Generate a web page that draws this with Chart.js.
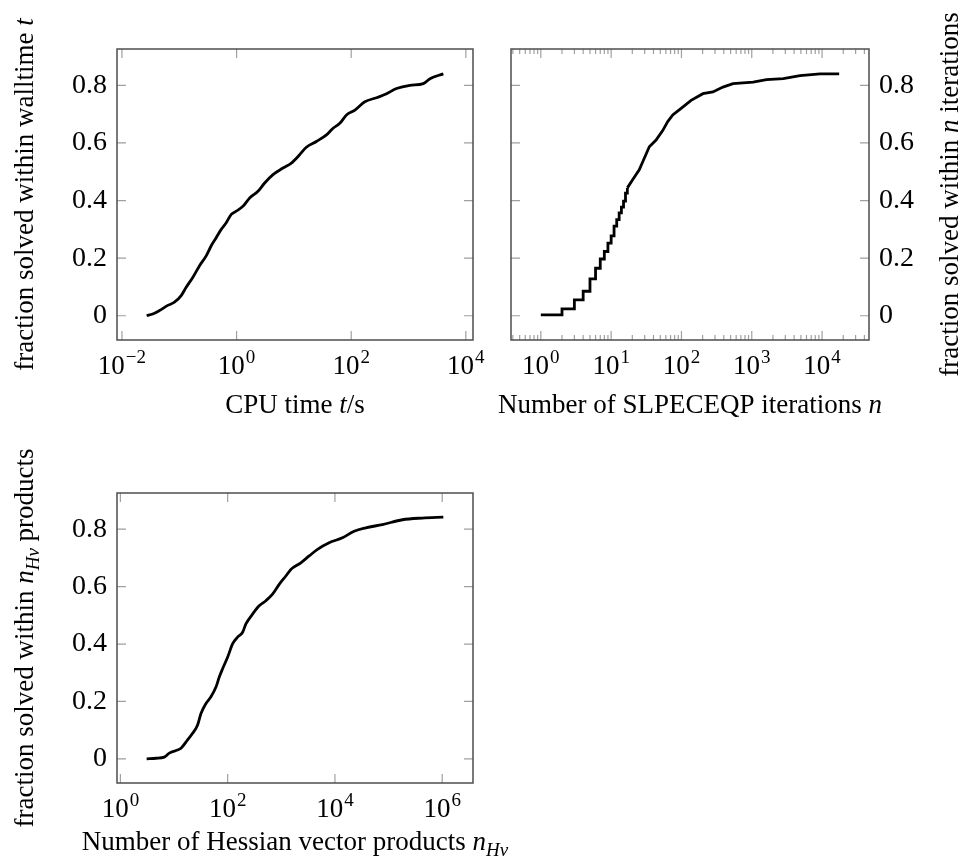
<!DOCTYPE html>
<html>
<head>
<meta charset="utf-8">
<script src="https://cdn.jsdelivr.net/npm/chart.js@4.4.1/dist/chart.umd.min.js"></script>
<style>
  body { margin: 0; background: #fff; width: 960px; height: 861px; position: relative; overflow: hidden; }
  canvas { position: absolute; }
</style>
</head>
<body>
<canvas id="cpuChart" width="500" height="430" style="left:0;top:0"></canvas>
<canvas id="iterChart" width="480" height="430" style="left:480px;top:0"></canvas>
<canvas id="hessChart" width="560" height="421" style="left:0;top:440px"></canvas>
<script>
// CPU time profile
const cpuTime = [0.027, 0.0344, 0.0451, 0.0631, 0.0824, 0.108, 0.132, 0.172, 0.226, 0.295, 0.361, 0.441, 0.540, 0.659, 0.807, 0.987, 1.29, 1.69, 2.36, 3.09, 4.32, 6.46, 9.03, 12.6, 16.5, 24.7, 37.0, 48.3, 63.2, 82.7, 116, 173, 277, 414, 618, 1057, 1811, 2368, 4048];
const cpuSolved = [0, 0.006, 0.018, 0.036, 0.047, 0.070, 0.099, 0.133, 0.174, 0.208, 0.243, 0.271, 0.300, 0.323, 0.352, 0.363, 0.380, 0.409, 0.432, 0.461, 0.490, 0.513, 0.530, 0.559, 0.585, 0.605, 0.628, 0.651, 0.668, 0.697, 0.714, 0.743, 0.757, 0.771, 0.789, 0.800, 0.806, 0.823, 0.840];

// SLPECEQP iterations profile: integer steps at small n, then dense part
const iterStepN = [1, 2, 3, 4, 5, 6, 7, 8, 9, 10, 11, 12, 13, 14, 15, 16, 17];
const iterStepSolved = [0.003, 0.024, 0.055, 0.085, 0.128, 0.165, 0.197, 0.223, 0.252, 0.277, 0.311, 0.334, 0.357, 0.377, 0.398, 0.426, 0.444];
const iterN = [17, 20.2, 25.1, 29.6, 34.9, 43.5, 54.1, 63.8, 75.2, 98.9, 137, 202, 280, 389, 541, 1045, 1622, 2806, 4853, 9354, 17500];
const iterSolved = [0.444, 0.472, 0.507, 0.547, 0.587, 0.610, 0.643, 0.674, 0.697, 0.720, 0.748, 0.771, 0.777, 0.794, 0.806, 0.811, 0.820, 0.823, 0.834, 0.840, 0.840];

// Hessian vector products profile
const hessProducts = [3.09, 4.61, 6.59, 8.17, 10.9, 13.5, 17.9, 22.2, 27.5, 31.8, 39.4, 48.8, 60.5, 69.8, 80.5, 99.7, 124, 153, 190, 219, 291, 387, 516, 687, 914, 1217, 1507, 2313, 3311, 4730, 7798, 13800, 22800, 37600, 76700, 181000, 427000, 1050000];
const hessSolved = [0, 0.002, 0.006, 0.020, 0.029, 0.037, 0.066, 0.089, 0.118, 0.158, 0.193, 0.216, 0.250, 0.285, 0.314, 0.354, 0.401, 0.424, 0.441, 0.470, 0.504, 0.533, 0.551, 0.574, 0.608, 0.637, 0.660, 0.683, 0.707, 0.730, 0.753, 0.770, 0.793, 0.805, 0.816, 0.833, 0.839, 0.842];

// tick values
const fracTicks = [0, 0.2, 0.4, 0.6, 0.8];
const cpuTicks = [0.01, 1, 100, 10000];
const iterTicks = [1, 10, 100, 1000, 10000];
const hessTicks = [1, 100, 10000, 1000000];

const FONT = '"Liberation Serif", "DejaVu Serif", serif';
const TICK = 27, EXP = 19, TITLE = 27, SUB = 19;

// pgfplots-like 10% enlargement of the data range
function logRange(xs) {
  const lo = Math.log10(Math.min(...xs)), hi = Math.log10(Math.max(...xs));
  const pad = 0.1 * (hi - lo);
  return [Math.pow(10, lo - pad), Math.pow(10, hi + pad)];
}
const fracMax = Math.max(...cpuSolved, ...iterSolved, ...hessSolved);
const yMin = -0.1 * fracMax, yMax = 1.1 * fracMax;

function drawRich(ctx, segs, cx, cy, rot) {
  ctx.save();
  ctx.translate(cx, cy);
  ctx.rotate(rot);
  ctx.fillStyle = '#000';
  ctx.textBaseline = 'alphabetic';
  ctx.textAlign = 'left';
  const fontOf = s => (s.it ? 'italic ' : '') + (s.sub ? SUB : TITLE) + 'px ' + FONT;
  let w = 0;
  segs.forEach(s => { ctx.font = fontOf(s); s.w = ctx.measureText(s.t).width; w += s.w; });
  let px = -w / 2;
  segs.forEach(s => { ctx.font = fontOf(s); ctx.fillText(s.t, px, s.sub ? 6 : 0); px += s.w; });
  ctx.restore();
}

// 10^k labels with a real raised exponent
function drawPowLabel(ctx, v, cx, base) {
  const exp = String(Math.round(Math.log10(v))).replace('-', '\u2212');
  ctx.font = TICK + 'px ' + FONT;
  const w1 = ctx.measureText('10').width;
  ctx.font = EXP + 'px ' + FONT;
  const w2 = ctx.measureText(exp).width;
  const left = cx - (w1 + 1 + w2) / 2;
  ctx.font = TICK + 'px ' + FONT;
  ctx.fillText('10', left, base);
  ctx.font = EXP + 'px ' + FONT;
  ctx.fillText(exp, left + w1 + 1, base - 11);
}

// box, inside ticks, x tick labels and axis titles
function frame(o) {
  return {
    id: 'frame',
    afterDatasetsDraw(chart) {
      const { ctx, chartArea: a } = chart;
      const x = chart.scales.x, y = chart.scales.y;
      ctx.save();
      ctx.strokeStyle = '#a0a0a0';
      ctx.lineWidth = 1.2;
      ctx.beginPath();
      const xMark = (v, len) => {
        const p = x.getPixelForValue(v);
        ctx.moveTo(p, a.bottom); ctx.lineTo(p, a.bottom - len);
        ctx.moveTo(p, a.top); ctx.lineTo(p, a.top + len);
      };
      o.xTicks.forEach(v => xMark(v, 9));
      if (o.minor) {
        for (let k = -2; k <= 6; k++) {
          for (let m = 2; m <= 9; m++) {
            const v = m * Math.pow(10, k);
            if (v > x.min && v < x.max) xMark(v, 5);
          }
        }
      }
      fracTicks.forEach(v => {
        const p = y.getPixelForValue(v);
        ctx.moveTo(a.left, p); ctx.lineTo(a.left + 9, p);
        ctx.moveTo(a.right, p); ctx.lineTo(a.right - 9, p);
      });
      ctx.stroke();
      ctx.strokeStyle = '#4d4d4d';
      ctx.lineWidth = 1.5;
      ctx.strokeRect(a.left, a.top, a.right - a.left, a.bottom - a.top);

      ctx.fillStyle = '#000';
      ctx.textBaseline = 'alphabetic';
      ctx.textAlign = 'left';
      x.ticks.forEach(t => drawPowLabel(ctx, t.value, x.getPixelForValue(t.value), a.bottom + 34));

      drawRich(ctx, o.xTitle, (a.left + a.right) / 2, o.xTitleY, 0);
      drawRich(ctx, o.yTitle, o.yTitleX, (a.top + a.bottom) / 2, -Math.PI / 2);
      ctx.restore();
    }
  };
}

const lineStyle = { borderColor: '#000', borderWidth: 2.8, pointRadius: 0 };

function makeChart(id, datasets, xs, o) {
  const [xmin, xmax] = logRange(xs);
  return new Chart(document.getElementById(id), {
    type: 'line',
    data: { datasets },
    options: {
      responsive: false,
      animation: false,
      events: [],
      layout: { padding: o.padding, autoPadding: false },
      plugins: { legend: { display: false }, tooltip: { enabled: false } },
      scales: {
        x: {
          type: 'logarithmic', position: 'bottom', min: xmin, max: xmax,
          grid: { display: false, drawTicks: false }, border: { display: false },
          afterBuildTicks: s => { s.ticks = o.xTicks.map(v => ({ value: v })); },
          afterFit: s => { s.height = o.xAxisH; },
          ticks: { display: false }
        },
        y: {
          type: 'linear', position: o.yPos, min: yMin, max: yMax,
          grid: { display: false, drawTicks: false }, border: { display: false },
          afterBuildTicks: s => { s.ticks = fracTicks.map(v => ({ value: v })); },
          afterFit: s => { s.width = o.yAxisW; },
          ticks: { callback: v => v === 0 ? '0' : v.toFixed(1), font: { family: FONT, size: 28 }, color: '#000', padding: 10 }
        }
      }
    },
    plugins: [frame(o)]
  });
}

const pts = (xs, ys) => xs.map((v, i) => ({ x: v, y: ys[i] }));

makeChart('cpuChart', [
  { ...lineStyle, data: pts(cpuTime, cpuSolved), cubicInterpolationMode: 'monotone' }
], cpuTime, {
  padding: { left: 0, top: 49, right: 27, bottom: 0 },
  yAxisW: 117, xAxisH: 90, yPos: 'left',
  xTicks: cpuTicks,
  xTitle: [{ t: 'CPU time ' }, { t: 't', it: true }, { t: '/s' }], xTitleY: 413,
  yTitle: [{ t: 'fraction solved within walltime ' }, { t: 't', it: true }], yTitleX: 33
});

makeChart('iterChart', [
  { ...lineStyle, data: pts(iterStepN, iterStepSolved), stepped: 'before' },
  { ...lineStyle, data: pts(iterN, iterSolved), tension: 0 }
], iterStepN.concat(iterN), {
  padding: { left: 31, top: 49, right: 0, bottom: 0 },
  yAxisW: 91, xAxisH: 90, yPos: 'right', minor: true,
  xTicks: iterTicks,
  xTitle: [{ t: 'Number of SLPECEQP iterations ' }, { t: 'n', it: true }], xTitleY: 413,
  yTitle: [{ t: 'fraction solved within ' }, { t: 'n', it: true }, { t: ' iterations' }], yTitleX: 478
});

makeChart('hessChart', [
  { ...lineStyle, data: pts(hessProducts, hessSolved), cubicInterpolationMode: 'monotone' }
], hessProducts, {
  padding: { left: 0, top: 53, right: 87, bottom: 0 },
  yAxisW: 117, xAxisH: 78, yPos: 'left',
  xTicks: hessTicks,
  xTitle: [{ t: 'Number of Hessian vector products ' }, { t: 'n', it: true }, { t: 'Hv', it: true, sub: true }], xTitleY: 410,
  yTitle: [{ t: 'fraction solved within ' }, { t: 'n', it: true }, { t: 'Hv', it: true, sub: true }, { t: ' products' }], yTitleX: 33
});
</script>
</body>
</html>
